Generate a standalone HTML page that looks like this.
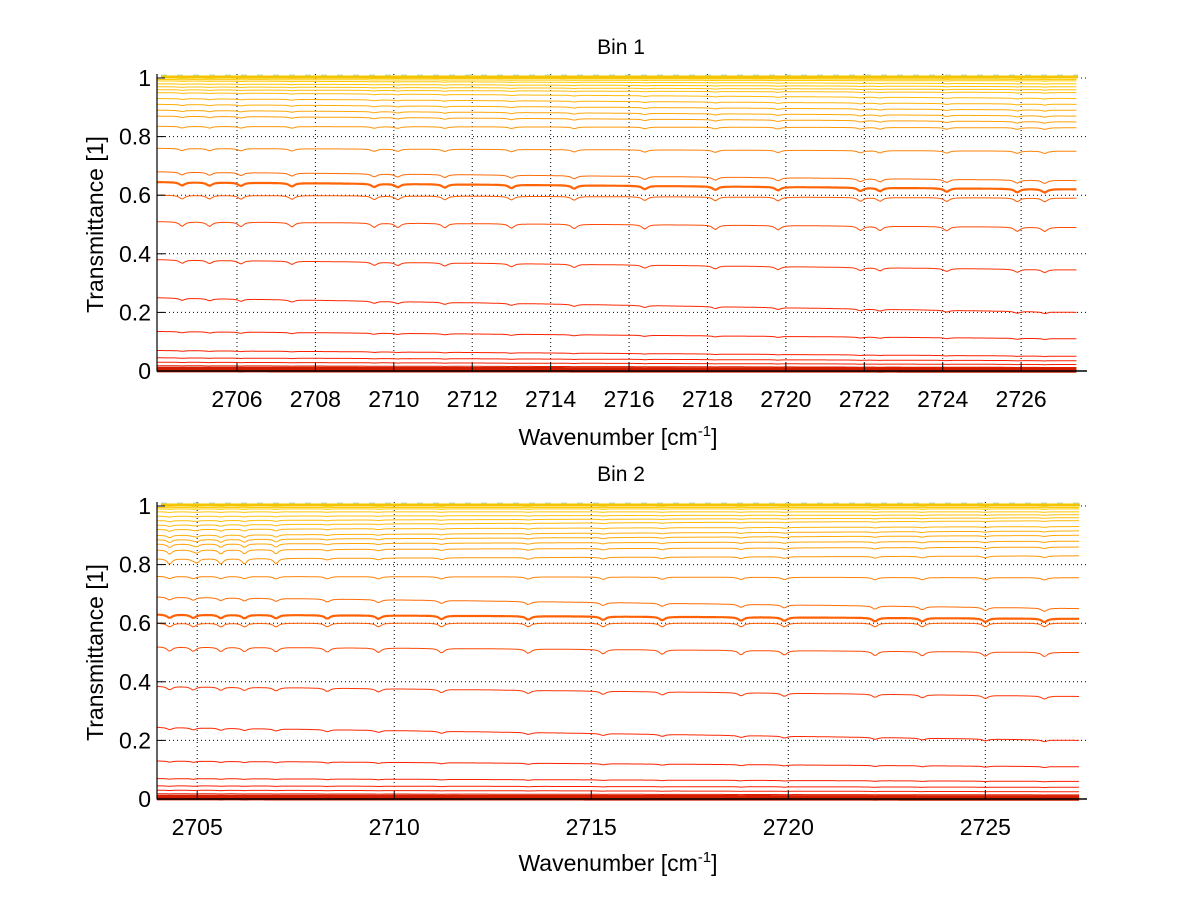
<!DOCTYPE html>
<html><head><meta charset="utf-8"><style>
html,body{margin:0;padding:0;background:#fff;}
svg{display:block;font-family:"Liberation Sans",sans-serif;}
</style></head><body>
<svg id="fig" width="1200" height="901" viewBox="0 0 1200 901" xmlns="http://www.w3.org/2000/svg"></svg>
<script>
// ---- data ----
const bin1Ticks = [2706,2708,2710,2712,2714,2716,2718,2720,2722,2724,2726];
const bin2Ticks = [2705,2710,2715,2720,2725];
const yTicks = [0,0.2,0.4,0.6,0.8,1];
const yTickLabels = ["0","0.2","0.4","0.6","0.8","1"];
// start / end transmittance levels of each spectrum (bin 1)
const bin1Start = [1.0,1.0,1.0,0.995,0.99,0.98,0.97,0.96,0.95,0.93,0.91,0.89,0.87,0.835,0.76,0.68,0.645,0.6,0.51,0.38,0.25,0.135,0.07,0.045,0.03,0.018,0.008,0.002];
const bin1End   = [1.0,1.0,0.995,0.99,0.98,0.97,0.96,0.95,0.93,0.91,0.89,0.87,0.85,0.83,0.75,0.65,0.62,0.59,0.49,0.345,0.2,0.11,0.05,0.035,0.022,0.012,0.005,0.001];
const bin2Start = [1.0,1.0,0.995,0.99,0.98,0.965,0.95,0.935,0.92,0.9,0.885,0.87,0.85,0.82,0.76,0.69,0.63,0.6,0.52,0.385,0.245,0.13,0.07,0.045,0.03,0.018,0.008,0.002];
const bin2End   = [1.0,1.0,0.995,0.99,0.98,0.97,0.96,0.95,0.93,0.915,0.9,0.88,0.86,0.83,0.755,0.65,0.615,0.6,0.5,0.35,0.2,0.11,0.06,0.04,0.025,0.014,0.006,0.001];
// absorption line positions (cm^-1)
const bin1Dips = [2704.6,2705.3,2706.1,2707.4,2709.5,2710.1,2711.3,2713.0,2714.6,2716.4,2718.2,2719.8,2721.9,2722.4,2724.1,2725.9,2726.6];
const bin2Dips = [2704.3,2704.9,2705.6,2706.2,2707.0,2708.3,2709.6,2711.2,2713.4,2715.3,2716.8,2718.8,2719.9,2722.2,2723.4,2725.0,2726.5];
const bin2StrongDips = [2704.3,2705.0,2705.6,2706.2,2707.0];

const NS="http://www.w3.org/2000/svg";
const svg=document.getElementById('fig');
function mk(tag,attrs,parent){const e=document.createElementNS(NS,tag);for(const k in attrs)e.setAttribute(k,attrs[k]);(parent||svg).appendChild(e);return e;}

function colorFor(lv){
  const g=Math.round(Math.max(0,Math.min(205,30+lv*lv*175)));
  const r=lv<0.03?200+Math.round(lv*1800):255;
  return `rgb(${Math.min(255,r)},${g},${lv>0.97?0:Math.round(10*lv)})`;
}

function drawPanel(p){
  const g=mk('g',{});
  
  
  const sx=v=>p.x0+(v-p.xmin)/(p.xmax-p.xmin)*(p.x1-p.x0);
  const sy=v=>p.yb-(v)*(p.yb-p.yt);
  p.ticks.forEach(t=>{
    const l=mk('line',{x1:sx(t),x2:sx(t),y1:p.ytop,y2:p.yb,stroke:'#000','stroke-width':1,'stroke-dasharray':'1,3'},g);
    
    
  });
  yTicks.forEach(t=>{
    const l=mk('line',{x1:p.x0,x2:p.x1,y1:sy(t),y2:sy(t),stroke:'#000','stroke-width':1,'stroke-dasharray':'1,3'},g);
    
    
  });
  const xe=p.xend;
  const n=p.start.length;
  for(let i=n-1;i>=0;i--){
    const a=p.start[i],b=p.end[i];
    const pts=[];
    for(let x=p.xmin;x<=xe;x+=0.05){
      const f=(x-p.xmin)/(xe-p.xmin);
      let lv=a+(b-a)*f;
      const amp=Math.min(lv,1-lv+0.02)*0.06;
      let d=0;
      p.dips.forEach(c=>{const u=(x-c)/0.08;d+=1/(1+u*u);});
      if(p.strong && lv>0.8){p.strong.forEach(c=>{const u=(x-c)/0.06;d+=1.2*(1-lv+0.05)*8/(1+u*u);});}
      let v=lv-amp*d*0.5;
      if(v<0)v=0;
      pts.push(sx(x).toFixed(1)+','+sy(v).toFixed(1));
    }
    const lv=(a+b)/2;
    const thick = (Math.abs(a-0.64)<0.011&&p.name==='bin1-panel')||(Math.abs(a-0.63)<0.011&&p.name==='bin2-panel')? 2.2 : (lv<0.01?4:1);
    const pl=mk('polyline',{points:pts.join(' '),fill:'none',stroke:colorFor(lv),'stroke-width':thick},g);
    
    
  }
  const band=mk('line',{x1:p.x0+4,x2:sx(xe),y1:sy(1)-1,y2:sy(1)-1,stroke:'#f5c400','stroke-width':3},g);
  
  
  const band2=mk('line',{x1:p.x0+4,x2:sx(xe),y1:sy(1)-3,y2:sy(1)-3,stroke:'#7fd0a0','stroke-width':1,'stroke-dasharray':'6,10','opacity':0.6},g);
  
  
  const ax=mk('line',{x1:p.x0,x2:p.x0,y1:p.ytop,y2:p.yb+0.5,stroke:'#000','stroke-width':1.2},g);
  
  
  const bx=mk('line',{x1:p.x0,x2:p.x1,y1:p.yb,y2:p.yb,stroke:'#000','stroke-width':1.5},g);
  
  
  p.ticks.forEach(t=>{
    const tm=mk('line',{x1:sx(t),x2:sx(t),y1:p.yb,y2:p.yb-8,stroke:'#000'},g);
    
    
    const tl=mk('text',{x:sx(t),y:p.yb+36,'text-anchor':'middle','font-size':23},g);
    tl.textContent=String(t);
    
    
  });
  yTicks.forEach((t,k)=>{
    const tm=mk('line',{x1:p.x0,x2:p.x0+8,y1:sy(t),y2:sy(t),stroke:'#000'},g);
    
    
    const tl=mk('text',{x:p.x0-6,y:sy(t)+8,'text-anchor':'end','font-size':23},g);
    tl.textContent=yTickLabels[k];
    
    
  });
  const ti=mk('text',{x:621,y:p.titleY,'text-anchor':'middle','font-size':21},g);
  ti.textContent=p.title;
  
  
  const xl=mk('text',{x:618,y:p.xlabelY,'text-anchor':'middle','font-size':23},g);
  xl.innerHTML='Wavenumber [cm<tspan dy="-9" font-size="15">-1</tspan><tspan dy="9">]</tspan>';
  
  
  const cy=(p.yb+p.yt)/2;
  const yl=mk('text',{x:103,y:cy,'text-anchor':'middle','font-size':23,transform:`rotate(-90 103 ${cy})`},g);
  yl.textContent='Transmittance [1]';
  
  
}

drawPanel({name:'bin1-panel',title:'Bin 1',x0:157,x1:1087,xmin:2703.96,xmax:2727.68,xend:2727.45,yt:78,yb:371,ytop:74,ticks:bin1Ticks,start:bin1Start,end:bin1End,dips:bin1Dips,titleY:54,xlabelY:445});
drawPanel({name:'bin2-panel',title:'Bin 2',x0:157,x1:1087,xmin:2703.98,xmax:2727.58,xend:2727.4,yt:506,yb:799,ytop:502,ticks:bin2Ticks,start:bin2Start,end:bin2End,dips:bin2Dips,strong:bin2StrongDips,titleY:481,xlabelY:871});
</script>
</body></html>
